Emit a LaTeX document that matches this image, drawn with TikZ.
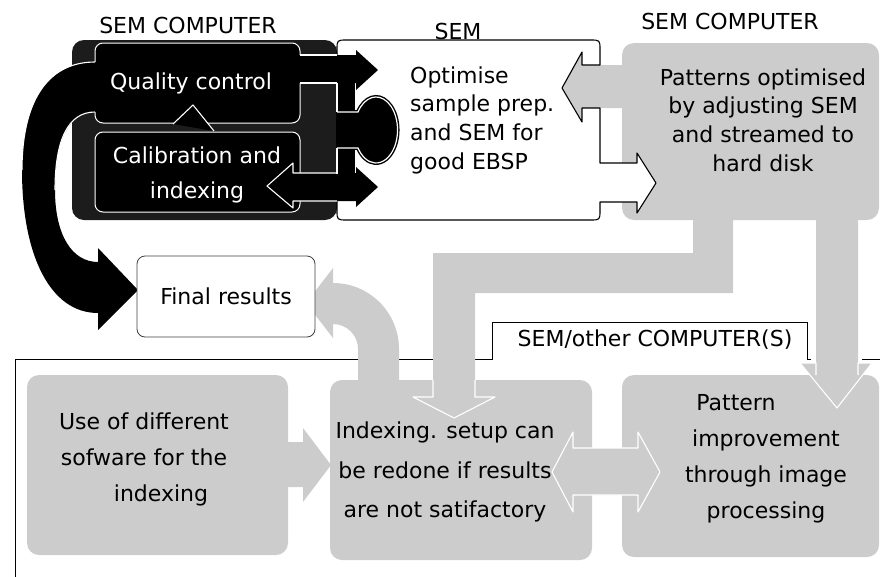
\documentclass[tikz,border=0pt]{standalone}
\usepackage{fontspec}
\setmainfont{DejaVu Sans}
\definecolor{gr}{RGB}{204,204,204}
\definecolor{dk}{RGB}{28,28,28}
\begin{document}
\begin{tikzpicture}[x=1pt,y=-1pt,
  txt/.style={font=\fontsize{22}{28.7}\selectfont, inner sep=0pt, align=center},
  wline/.style={draw=white, line width=1.1pt, line join=round},
  panel/.style={draw=black, line width=0.9pt},
  innerbox/.style={fill=black, draw=white, line width=1pt, rounded corners=8},
  graybox/.style={fill=gr, rounded corners=12}]
\useasboundingbox (0,0) rectangle (880,576);

% panel outline with tab
\draw[panel] (15,578) -- (15,359) -- (492,359) -- (492,322) -- (807,322) -- (807,359) -- (811,359);
\draw[panel] (862,359) -- (882,359);

% gray boxes
\fill[graybox] (622,43) rectangle (879,220);
\fill[graybox] (27,375) rectangle (288,555);
\fill[graybox] (330,380) rectangle (592,560);
\fill[graybox] (622,375) rectangle (879,557);

% gray down arrows
\fill[gr] (693,215) -- (733,215) -- (733,293) -- (475,293) -- (475,397) -- (495,397) -- (454,418) -- (413,397) -- (433,397) -- (433,253) -- (693,253) -- cycle;
\draw[wline] (433,380) -- (433,397) -- (413,397) -- (454,418) -- (495,397) -- (475,397) -- (475,380);
\fill[gr] (816,215) -- (858,215) -- (858,363) -- (872,363) -- (837,408) -- (800,363) -- (816,363) -- cycle;
\draw[wline] (816,375) -- (816,363) -- (800,363) -- (837,408) -- (872,363) -- (858,363) -- (858,375);

% gray curved arrow to final results
\fill[gr] (358,385) -- (358,349) arc[start angle=0,end angle=-90,radius=25] -- (333,338) -- (306,303) -- (333,268) -- (333,283) arc[start angle=-90,end angle=0,radius=66] -- (399,385) -- cycle;

% use -> indexing arrow
\fill[gr] (286,442) -- (303,442) -- (303,428) -- (331,465) -- (303,502) -- (303,487) -- (286,487) -- cycle;
% double arrow indexing <-> pattern
\filldraw[fill=gr, wline] (552,472) -- (573,432) -- (573,448) -- (638,448) -- (638,432) -- (660,472) -- (638,512) -- (638,495) -- (573,495) -- (573,512) -- cycle;

% dark SEM computer box
\fill[dk, rounded corners=12] (72,40) rectangle (337,220);

% gray arrow into SEM box
\fill[gr] (625,65) -- (582,65) -- (582,52) -- (562,88) -- (582,122) -- (582,108) -- (625,108) -- cycle;
% SEM box with outgoing white arrow
\filldraw[fill=white, draw=black, line width=1.1pt, line join=round]
  (347,40) -- (590,40) .. controls (600,40) .. (600,50) -- (600,65) -- (582,65) -- (582,52) -- (562,88) -- (582,122) -- (582,108) -- (600,108) -- (600,163) -- (637,163) -- (637,153) -- (656,183) -- (637,213) -- (637,202) -- (600,202) -- (600,210) .. controls (600,220) .. (590,220) -- (347,220) .. controls (337,220) .. (337,210) -- (337,50) .. controls (337,40) .. (347,40) -- cycle;

% inner black boxes
\filldraw[innerbox] (95,43) rectangle (300,123);
\filldraw[innerbox] (95,132) rectangle (300,212);
\fill[black] (173,124) -- (193,105) -- (214,131) -- cycle;
\draw[wline] (173,124) -- (193,105) -- (214,131);

% black arrows to SEM
\fill[black] (297,55) -- (356,55) -- (356,50) -- (378,70) -- (356,90) -- (356,83) -- (297,83) -- cycle;
\draw[wline] (300,55) -- (337,55);
\draw[wline] (300,83) -- (337,83);
\fill[black] (267,186) -- (293,163) -- (293,173) -- (356,173) -- (356,167) -- (378,187) -- (356,207) -- (356,201) -- (293,201) -- (293,208) -- cycle;
\draw[wline] (337,173) -- (293,173) -- (293,163) -- (267,186) -- (293,208) -- (293,201) -- (337,201);

% knob
\fill[black] (336,83) rectangle (355,174);
\draw[black, line width=4pt] (337,112) -- (358,112) arc[start angle=-147,end angle=147,x radius=21.5,y radius=33] -- (337,148);
\fill[black] (337,112) -- (358,112) arc[start angle=-147,end angle=147,x radius=21.5,y radius=33] -- (337,148) -- cycle;
\draw[white, line width=1.2pt] (337,112) -- (358,112) arc[start angle=-147,end angle=147,x radius=21.5,y radius=33] -- (337,148);
\draw[wline] (337,83) -- (337,112);
\draw[wline] (337,148) -- (337,174);

% black curved arrow to final results
\fill[black] (97,62) .. controls (45,62) and (22,105) .. (22,170) .. controls (22,255) and (50,313) .. (98,313) -- (98,330) -- (138,290) -- (98,248) -- (98,262) .. controls (72,262) and (55,235) .. (55,190) .. controls (55,140) and (68,112) .. (97,112) -- cycle;
\draw[wline] (95,62) .. controls (45,62) and (22,105) .. (22,170);
\draw[wline] (55,190) .. controls (55,140) and (68,112) .. (95,112);

% final results
\node[txt, draw=black!75, fill=white, line width=0.8pt, rounded corners=8, minimum width=178, minimum height=81] (fin) at (226,296.5) {Final results};

% labels
\node[txt] (lbl1) at (188,25) {SEM COMPUTER};
\node[txt] (lbl2) at (458,31) {SEM};
\node[txt] (lbl3) at (730,21) {SEM COMPUTER};
\node[txt] (tab) at (655,340) {SEM/other COMPUTER(S)};

% box texts
\node[txt, text=white] (qc) at (191,83) {Quality control};
\node[txt, text=white, font=\fontsize{22}{35}\selectfont] (cal) at (197,175) {Calibration and\\indexing};
\node[txt, align=left, anchor=west] (opt) at (410,120) {Optimise\\sample prep.\\and SEM for\\good EBSP};
\node[txt] (pat) at (763,120) {Patterns optimised\\by adjusting SEM\\and streamed to\\hard disk};
\node[txt, font=\fontsize{22}{36}\selectfont] (use) at (144,459) {Use of different\\sofware for the\\\hspace*{34pt}indexing};
\node[txt, font=\fontsize{22}{39.5}\selectfont] (idx) at (445,472) {Indexing. setup can\\be redone if results\\are not satifactory};
\node[txt, font=\fontsize{22}{36}\selectfont] (pim) at (766,459) {Pattern\hspace*{60pt}\\improvement\\through image\\processing};
\end{tikzpicture}
\end{document}
